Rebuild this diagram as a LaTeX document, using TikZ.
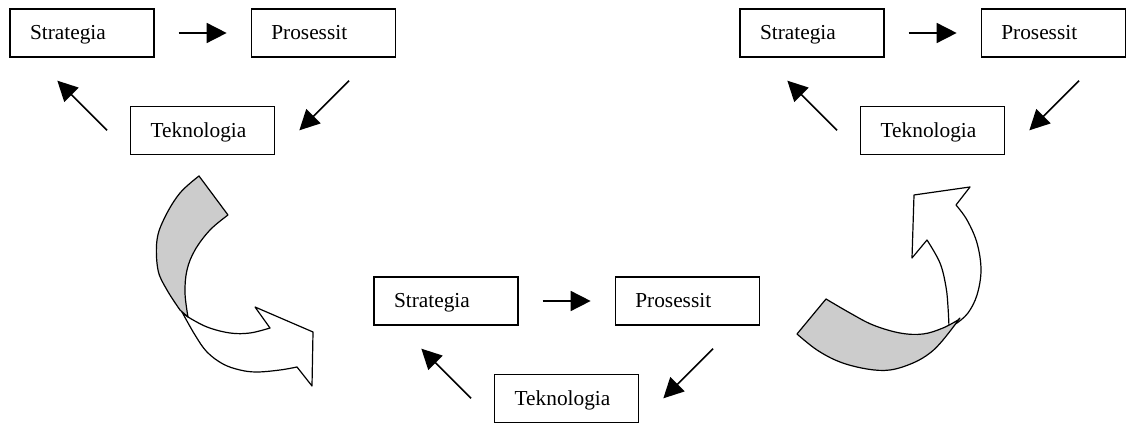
\documentclass[tikz,border=0pt]{standalone}
\usepackage{fontspec}
\setmainfont{Liberation Serif}
\usepackage{tikz}
\usetikzlibrary{arrows.meta, positioning, calc}
\definecolor{foldgray}{HTML}{CCCCCC}
\tikzstyle{box} = [rectangle, draw=black, line width=1pt, text width=78pt, inner xsep=15pt, minimum height=36pt, text height=14pt, text depth=3.5pt, align=left, font=\fontsize{16}{19}\selectfont]
\tikzstyle{arrow} = [line width=1.2pt, -{Triangle[length=15pt, width=15pt]}]
\tikzstyle{band} = [draw=black, line width=0.9pt, fill=foldgray, line join=round]
\tikzstyle{turn} = [draw=black, line width=0.9pt, fill=white, line join=round]

\begin{document}
\begin{tikzpicture}[x=0.75pt, y=-0.75pt]
    \useasboundingbox (0,0) rectangle (1128,423);

    % top left cycle
    \node[box] (s1) at (82,33) {Strategia};
    \node[box, right=72pt of s1] (p1) {Prosessit};
    \node[box, anchor=north] (t1) at ($(s1.south)!0.5!(p1.south)+(0,48)$) {Teknologia};

    % top right cycle
    \node[box] (s2) at (812,33) {Strategia};
    \node[box, right=72pt of s2] (p2) {Prosessit};
    \node[box, anchor=north] (t2) at ($(s2.south)!0.5!(p2.south)+(0,48)$) {Teknologia};

    % bottom cycle
    \node[box] (s3) at (446,301) {Strategia};
    \node[box, right=72pt of s3] (p3) {Prosessit};
    \node[box, anchor=north] (t3) at ($(s3.south)!0.5!(p3.south)+(0,48)$) {Teknologia};

    \draw[arrow, shorten <=18pt, shorten >=18pt] (s1) -- (p1);
    \draw[arrow] ([shift={(-35.25pt,-17.25pt)}]p1.south east) -- ([xshift=18pt]t1.east);
    \draw[arrow] ([xshift=-17.25pt]t1.west) -- ([shift={(36pt,-17.25pt)}]s1.south west);

    \draw[arrow, shorten <=18pt, shorten >=18pt] (s2) -- (p2);
    \draw[arrow] ([shift={(-35.25pt,-17.25pt)}]p2.south east) -- ([xshift=18pt]t2.east);
    \draw[arrow] ([xshift=-17.25pt]t2.west) -- ([shift={(36pt,-17.25pt)}]s2.south west);

    \draw[arrow, shorten <=18pt, shorten >=18pt] (s3) -- (p3);
    \draw[arrow] ([shift={(-35.25pt,-17.25pt)}]p3.south east) -- ([xshift=18pt]t3.east);
    \draw[arrow] ([xshift=-17.25pt]t3.west) -- ([shift={(36pt,-17.25pt)}]s3.south west);

    % twisted arrow going down
    \path[turn] (182,312) -- plot[smooth, tension=0.6] coordinates {(188,317) (207,327) (230,333) (250,333) (270,328)}
        -- (255,307) -- (313,332) -- (312,386)
        -- plot[smooth, tension=0.6] coordinates {(297,367) (280,370) (257,372) (240,370) (223,364) (207,352) (195,335) (182,312)}
        -- cycle;
    \path[band] (199,176) -- (228,215)
        -- plot[smooth, tension=0.6] coordinates {(228,215) (210,230) (195,250) (187,270) (185,293) (188,317)}
        -- plot[smooth, tension=0.6] coordinates {(180,310) (167,290) (158,270) (157,240) (165,217) (180,193) (199,176)}
        -- cycle;

    % twisted arrow going up
    \path[turn] plot[smooth, tension=0.6] coordinates {(949,327) (948,307) (946,287) (940,263) (927,240)}
        -- (912,258) -- (914,195) -- (970,187)
        -- plot[smooth, tension=0.6] coordinates {(956,205) (967,220) (977,243) (981,270) (977,295) (968,313) (957,323)}
        -- cycle;
    \path[band] (797,334) -- (826,299)
        -- plot[smooth, tension=0.6] coordinates {(826,299) (850,313) (873,325) (900,333) (923,334) (943,328) (958,320)}
        -- plot[smooth, tension=0.6] coordinates {(960,318) (943,340) (930,353) (913,363) (890,370) (867,369) (840,362) (817,350) (797,334)}
        -- cycle;
\end{tikzpicture}
\end{document}
